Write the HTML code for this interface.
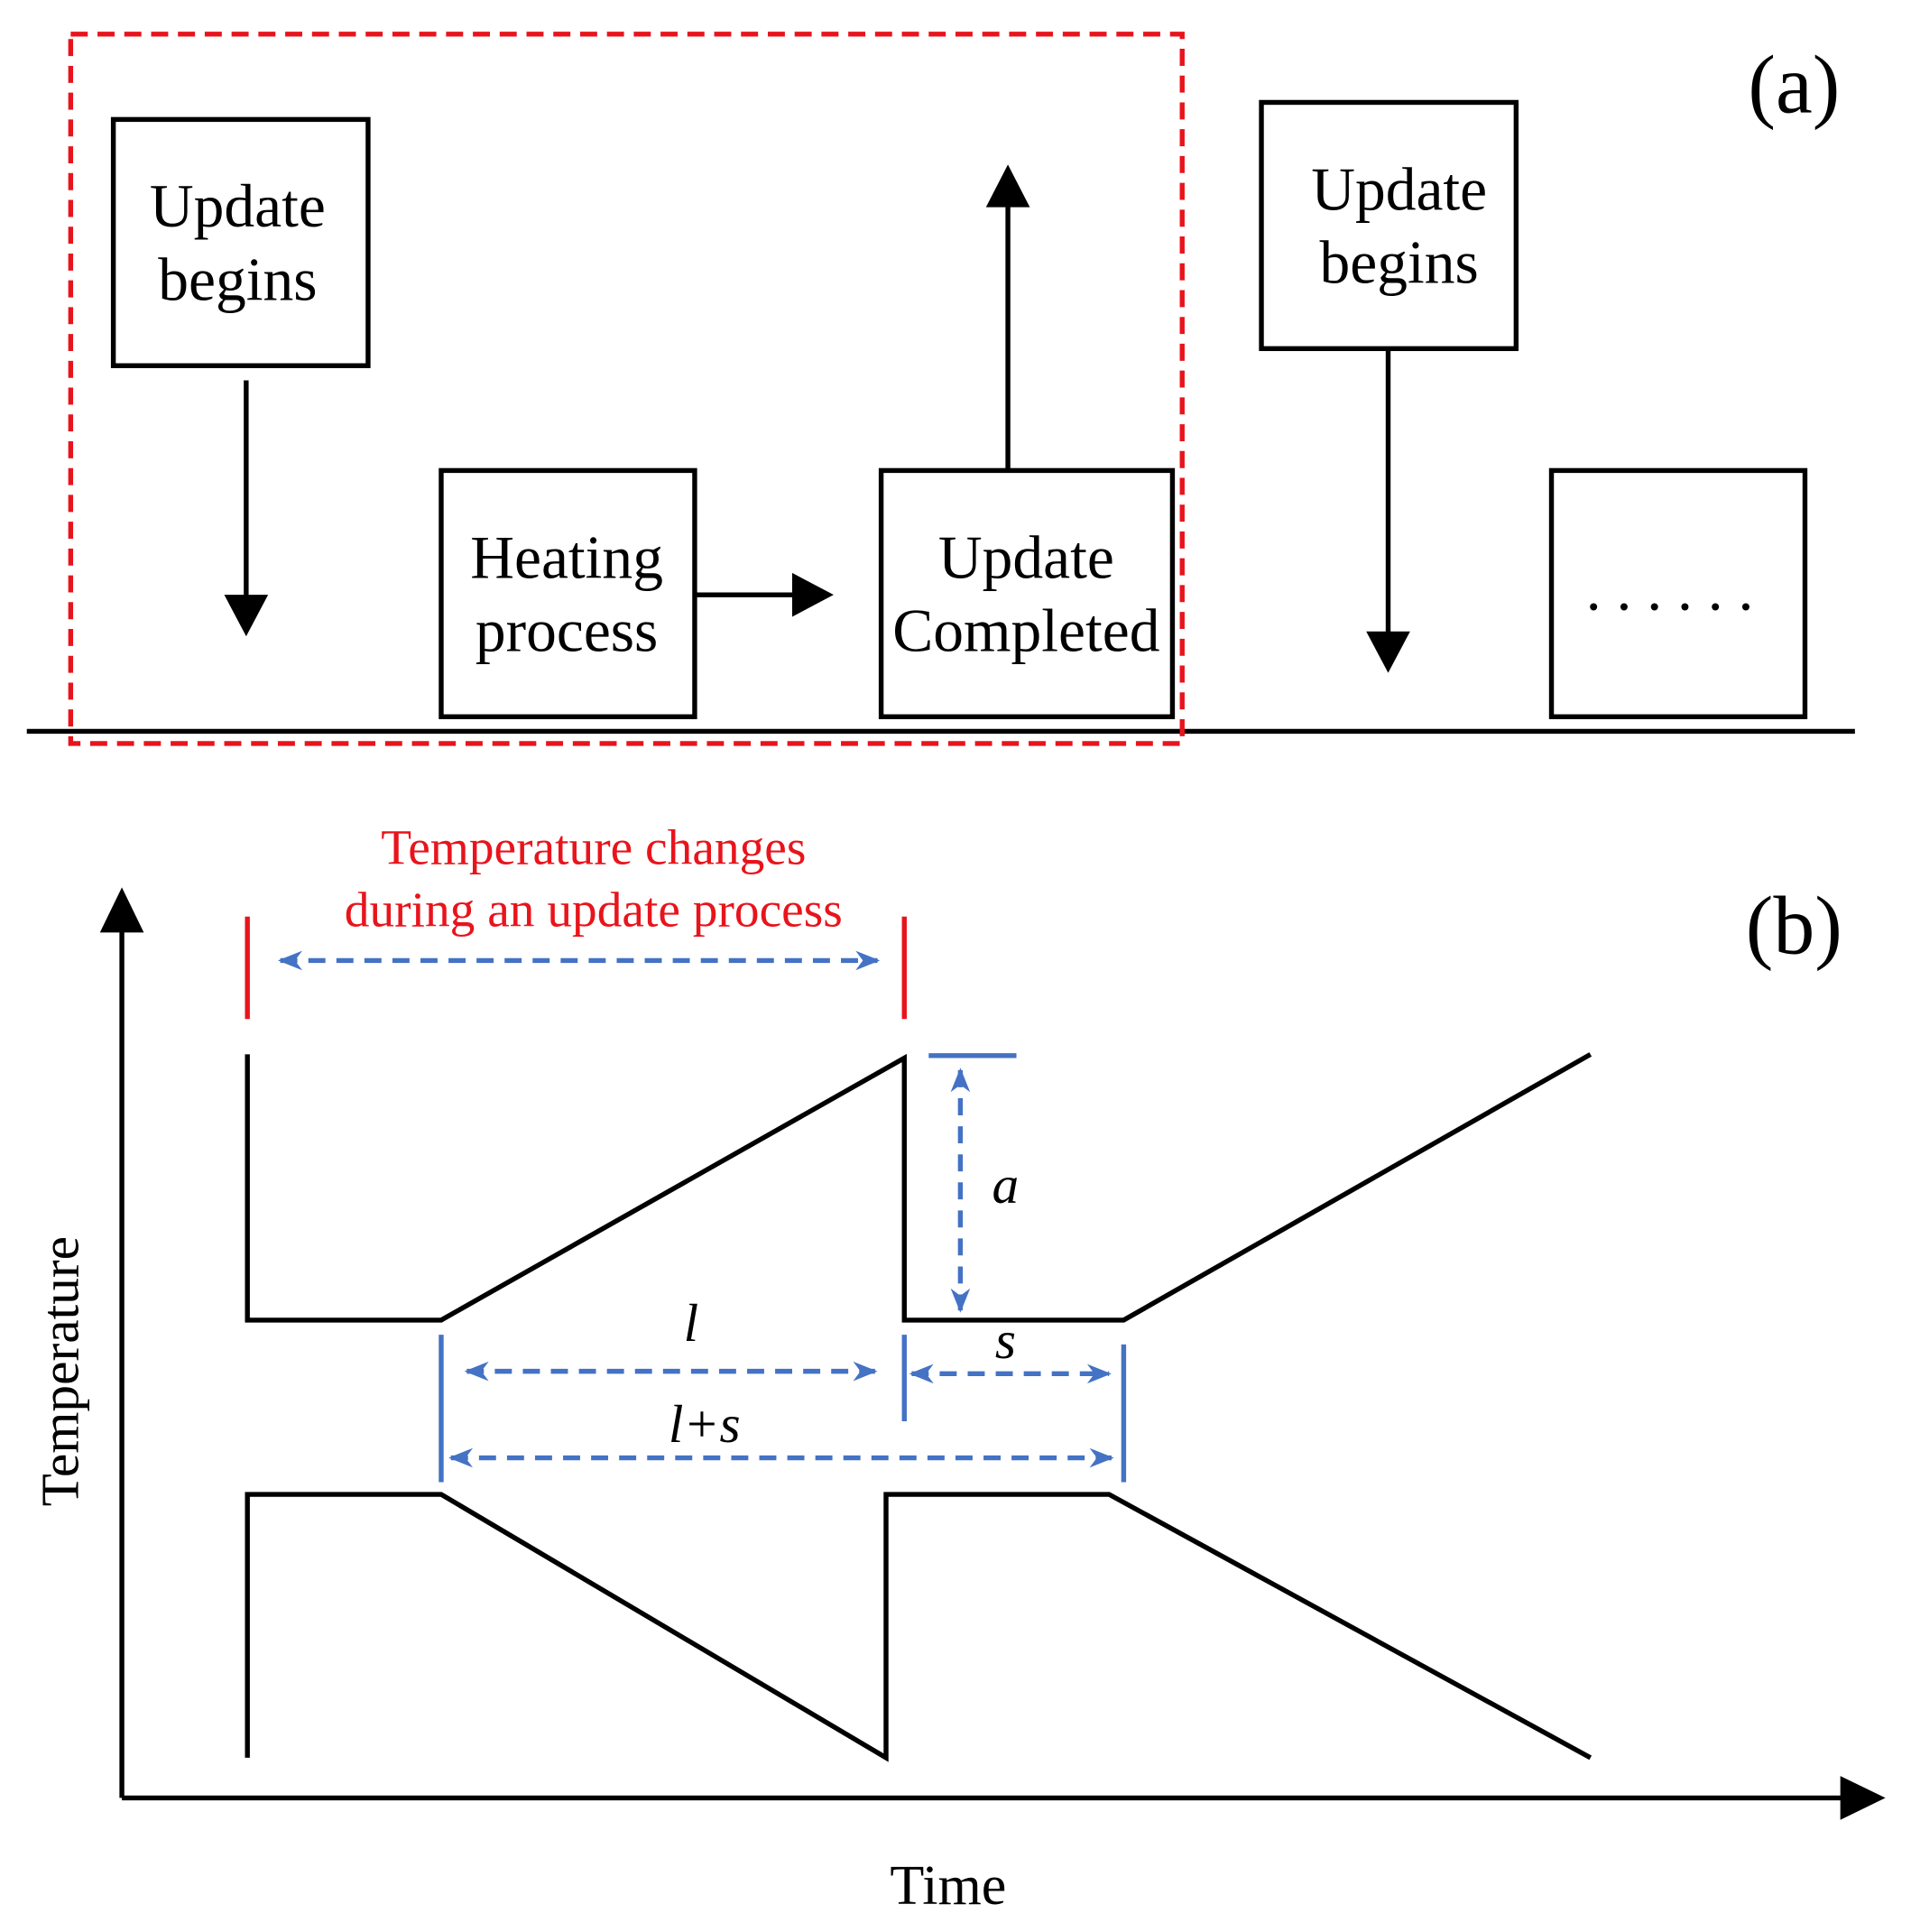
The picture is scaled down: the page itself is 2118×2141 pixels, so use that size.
<!DOCTYPE html>
<html><head><style>html,body{margin:0;padding:0;background:#fff}svg{display:block}</style></head>
<body>
<svg width="2118" height="2141" viewBox="0 0 1568 1585" preserveAspectRatio="none" xmlns="http://www.w3.org/2000/svg" font-family="'Liberation Serif', serif">
<defs>
<marker id="bb" markerWidth="20" markerHeight="20" refX="18" refY="10" orient="auto-start-reverse" markerUnits="userSpaceOnUse" viewBox="0 0 20 20"><path d="M0,2 L20,10 L0,18 L6,10 z" fill="#4472c4"/></marker>
</defs>
<g fill="none" stroke="#000" stroke-width="4">
<rect x="93" y="98" width="209" height="202"/>
<rect x="362" y="386" width="208" height="202"/>
<rect x="723" y="386" width="239" height="202"/>
<rect x="1035" y="84" width="209" height="202"/>
<rect x="1273" y="386" width="208" height="202"/>
<line x1="22" y1="600" x2="1522" y2="600"/>
<line x1="202" y1="312" x2="202" y2="490"/>
<line x1="570" y1="488" x2="655" y2="488"/>
<line x1="827" y1="386" x2="827" y2="165"/>
<line x1="1139" y1="286" x2="1139" y2="522"/>
<line x1="100" y1="1475" x2="100" y2="760"/>
<line x1="100" y1="1475" x2="1515" y2="1475"/>
<polyline points="203,865 203,1083 362,1083 742,868 742,1083 922,1083 1305,865"/>
<polyline points="203,1442 203,1226 362,1226 727,1442 727,1226 910,1226 1305,1442"/>
</g>
<g fill="#000">
<polygon points="184,488 220,488 202,522"/>
<polygon points="650,470 650,506 684,488"/>
<polygon points="809,170 845,170 827,135"/>
<polygon points="1121,518 1157,518 1139,552"/>
<polygon points="82,765 118,765 100,728"/>
<polygon points="1510,1457 1510,1493 1547,1475"/>
</g>
<rect x="58" y="28" width="912" height="582" fill="none" stroke="#e8141c" stroke-width="4" stroke-dasharray="14,8"/>
<g stroke="#e8141c" stroke-width="4"><line x1="203" y1="752" x2="203" y2="836"/><line x1="742" y1="752" x2="742" y2="836"/></g>
<g stroke="#4472c4" stroke-width="4" fill="none">
<line x1="762" y1="866" x2="834" y2="866"/>
<line x1="362" y1="1095" x2="362" y2="1216"/>
<line x1="742" y1="1095" x2="742" y2="1166"/>
<line x1="922" y1="1103" x2="922" y2="1216"/>
</g>
<g stroke="#4472c4" stroke-width="4" fill="none" stroke-dasharray="14,9" marker-start="url(#bb)" marker-end="url(#bb)">
<line x1="230" y1="788" x2="720" y2="788"/>
<line x1="788" y1="878" x2="788" y2="1075"/>
<line x1="383" y1="1125" x2="718" y2="1125"/>
<line x1="748" y1="1127" x2="910" y2="1127"/>
<line x1="370" y1="1196" x2="912" y2="1196"/>
</g>
<g font-size="50" text-anchor="middle" fill="#000">
<text x="195" y="186">Update</text><text x="195" y="246">begins</text>
<text x="465" y="474">Heating</text><text x="465" y="534">process</text>
<text x="842" y="474">Update</text><text x="842" y="534">Completed</text>
<text x="1148" y="172">Update</text><text x="1148" y="232">begins</text>
<text x="1370" y="500">. . . . . .</text>
<text x="1472" y="92" font-size="68">(a)</text>
<text x="1472" y="782" font-size="68">(b)</text>
<text x="778" y="1562" font-size="46">Time</text>
<text transform="translate(64,1125) rotate(-90)" font-size="44">Temperature</text>
<g font-style="italic" font-size="44"><text x="825" y="987">a</text><text x="567" y="1100">l</text><text x="825" y="1114">s</text><text x="578" y="1183">l+s</text></g>
<g fill="#e8141c" font-size="41"><text x="487" y="709">Temperature changes</text><text x="487" y="760">during an update process</text></g>
</g>
</svg>
</body></html>
